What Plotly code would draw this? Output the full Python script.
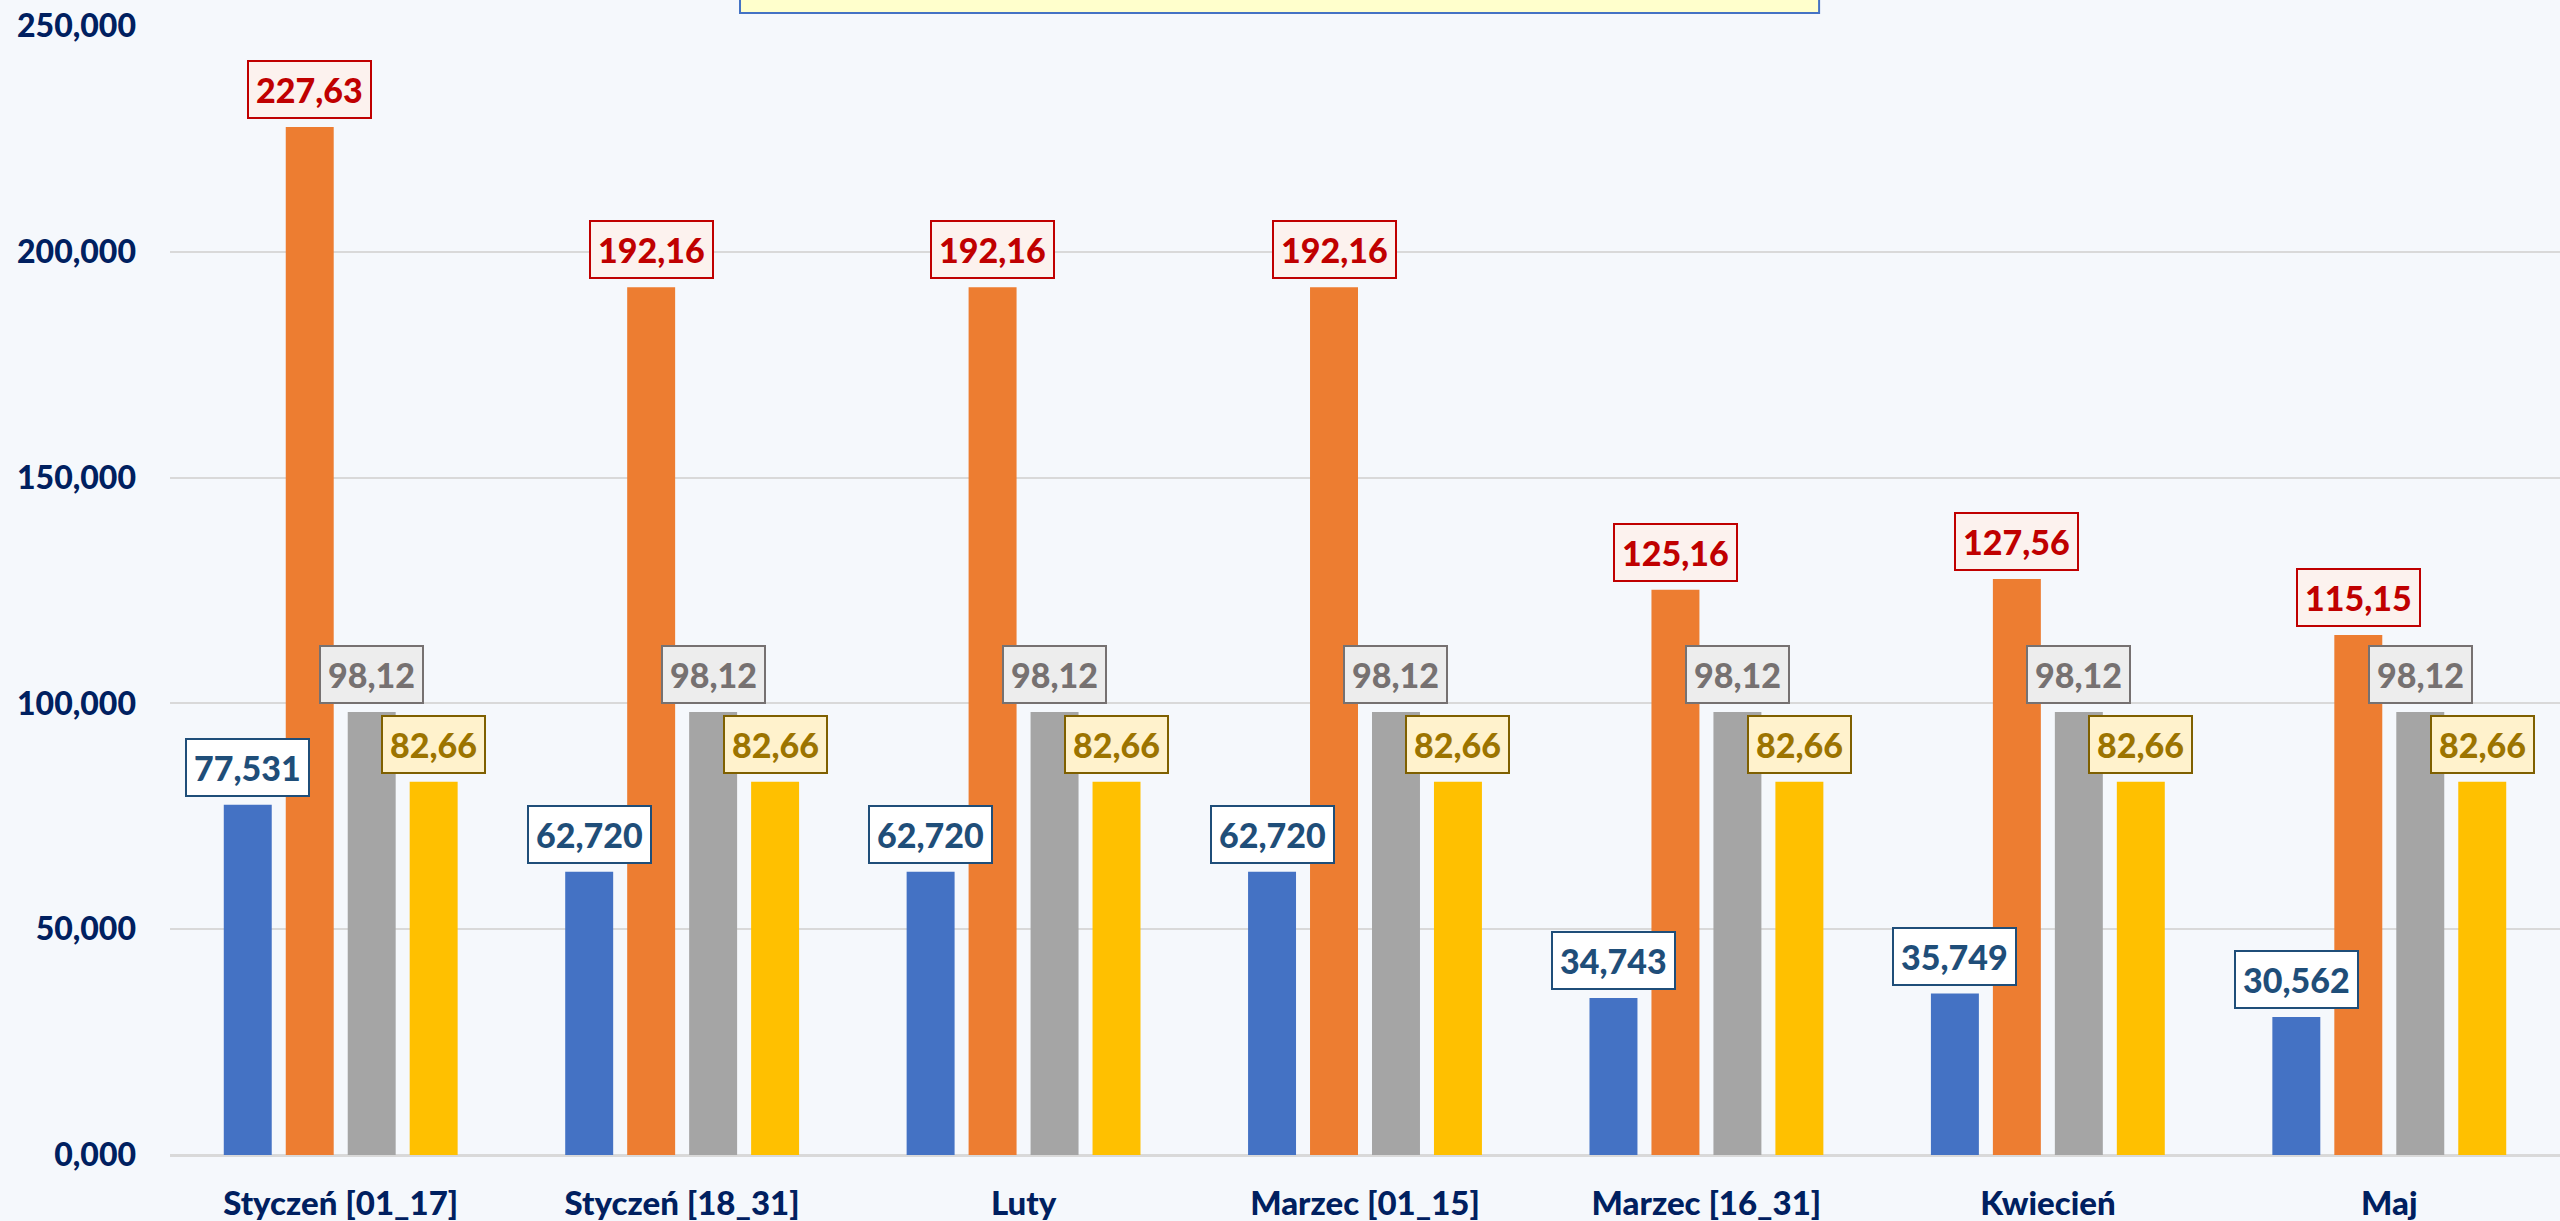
import plotly.graph_objects as go

categories = ["Styczeń [01_17]", "Styczeń [18_31]", "Luty", "Marzec [01_15]",
              "Marzec [16_31]", "Kwiecień", "Maj"]
blue_vals = [77.531, 62.720, 62.720, 62.720, 34.743, 35.749, 30.562]
orange_vals = [227.63, 192.16, 192.16, 192.16, 125.16, 127.56, 115.15]
gray_vals = [98.12, 98.12, 98.12, 98.12, 98.12, 98.12, 98.12]
gold_vals = [82.66, 82.66, 82.66, 82.66, 82.66, 82.66, 82.66]
y_ticks = [0, 50, 100, 150, 200, 250]

series = [
    dict(vals=blue_vals, color="#4472C4", fmt="{:.3f}", fc="#1F4E79", bg="#FFFFFF", bc="#1F4E79"),
    dict(vals=orange_vals, color="#ED7D31", fmt="{:.2f}", fc="#C00000", bg="#FCF2EE", bc="#C00000"),
    dict(vals=gray_vals, color="#A5A5A5", fmt="{:.2f}", fc="#767171", bg="#EDEDED", bc="#767171"),
    dict(vals=gold_vals, color="#FFC000", fmt="{:.2f}", fc="#9C7400", bg="#FFF2CC", bc="#7F6000"),
]

BARGAP = 0.274
BARGROUPGAP = 0.226
FONT = "Lato"
WEIGHT = 900
NAVY = "#002060"
BG = "#F5F8FC"

fig = go.Figure()
annotations = []
n = len(series)
slot = (1 - BARGAP) / n
for j, s in enumerate(series):
    fig.add_trace(go.Bar(x=categories, y=s["vals"], marker=dict(color=s["color"], line=dict(width=0)),
                         hoverinfo="skip"))
    for i, v in enumerate(s["vals"]):
        annotations.append(dict(
            x=i + (j - (n - 1) / 2) * slot, y=v, xref="x", yref="y",
            text=s["fmt"].format(v).replace(".", ","),
            showarrow=False, yanchor="bottom", xanchor="center", yshift=8,
            font=dict(family=FONT, size=34, color=s["fc"], weight=WEIGHT),
            bgcolor=s["bg"], bordercolor=s["bc"], borderwidth=2, borderpad=7,
        ))

fig.update_layout(
    width=2560, height=1221,
    margin=dict(l=170, r=0, t=26, b=66),
    paper_bgcolor=BG, plot_bgcolor=BG,
    barmode="group", bargap=BARGAP, bargroupgap=BARGROUPGAP,
    showlegend=False,
    separators=",.",
    annotations=annotations,
    shapes=[dict(type="rect", xref="paper", yref="paper",
                 x0=0.2385, x1=0.690, y0=1.0115, y1=1.2,
                 fillcolor="#FFFFCC", line=dict(color="#4472C4", width=2), layer="above")],
)
fig.update_xaxes(
    tickfont=dict(family=FONT, size=33, color=NAVY, weight=WEIGHT),
    showgrid=False, showline=False, ticks="", ticklabelstandoff=26,
)
fig.update_yaxes(
    range=[0, 250], tickvals=y_ticks, tickformat=".3f",
    tickfont=dict(family=FONT, size=32, color=NAVY, weight=WEIGHT),
    showgrid=True, gridcolor="#D9D9D9", gridwidth=2,
    zeroline=True, zerolinecolor="#D9D9D9", zerolinewidth=3,
    ticks="", ticklabelstandoff=33,
)

fig.write_html(
    "out.html",
    config={"displayModeBar": False, "staticPlot": True},
    post_script="document.body.style.margin='0';document.body.style.background='" + BG + "';"
                "document.documentElement.style.overflow='hidden';",
)
